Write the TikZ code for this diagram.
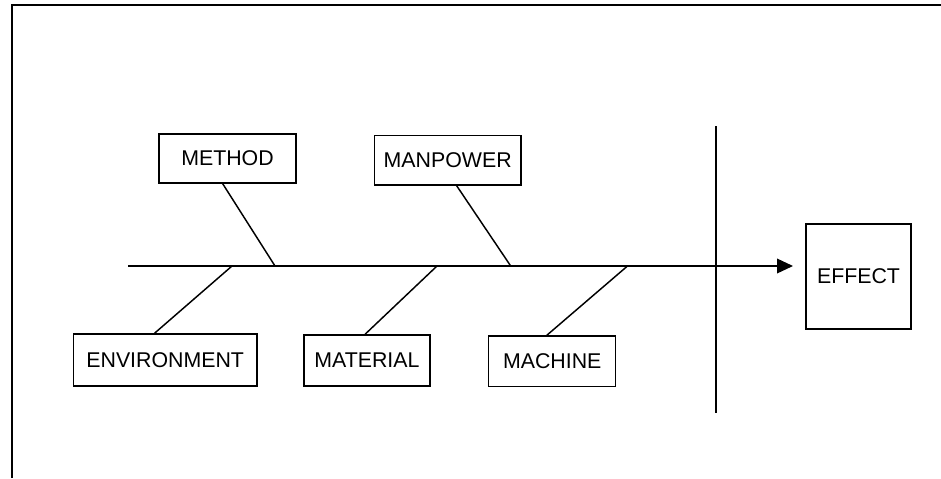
\documentclass[tikz,border=0pt]{standalone}
\usepackage{fontspec}
\setmainfont{Liberation Sans}
\usepackage{tikz}
\usetikzlibrary{positioning,arrows.meta}
\tikzset{
  cause/.style={draw, line width=1.1pt, align=center, inner sep=2pt,
                font=\fontsize{16}{19}\selectfont},
  effbox/.style={cause, minimum width=78.75pt, minimum height=78.75pt},
  bone/.style={line width=1.1pt},
  spine/.style={line width=1.1pt, -{Triangle[length=12pt, width=11pt]}},
  frame/.style={line width=1.6pt},
}
\begin{document}
\begin{tikzpicture}[x=0.75pt, y=-0.75pt]
\useasboundingbox (0,0) rectangle (941,478);
% frame
\draw[frame] (12,478) -- (12,5) -- (941,5);
% causes
\node[cause, minimum width=102.75pt, minimum height=36.75pt] (method) at (227.5,158.5) {METHOD};
\node[cause, minimum width=110pt, minimum height=37pt] (manpower) at (447.7,160.4) {MANPOWER};
\node[cause, minimum width=137.7pt, minimum height=39pt] (environment) at (165.2,360) {ENVIRONMENT};
\node[cause, minimum width=94.6pt, minimum height=38.2pt] (material) at (366.9,360.5) {MATERIAL};
\node[cause, minimum width=95.3pt, minimum height=38pt] (machine) at (552.2,361.3) {MACHINE};
\node[effbox] (effect) at (858.5,276.5) {EFFECT};
% spine and junctions
\coordinate (tail) at (128,266);
\coordinate (head) at (793,266);
\coordinate (jenv) at (232,266);
\coordinate (jmeth) at (275,266);
\coordinate (jmat) at (437,266);
\coordinate (jman) at (510.7,266);
\coordinate (jmach) at (627.5,266);
\coordinate (vtop) at (716,126);
\coordinate (vbot) at (716,413);
\draw[spine] (tail) -- (head);
\draw[bone] (vtop) -- (vbot);
% bones
\draw[bone] ([xshift=-3.6pt]method.south) -- (jmeth);
\draw[bone] ([xshift=6.75pt]manpower.south) -- (jman);
\draw[bone] ([xshift=-8pt]environment.north) -- (jenv);
\draw[bone] ([xshift=-1.4pt]material.north) -- (jmat);
\draw[bone] ([xshift=-4pt]machine.north) -- (jmach);
\end{tikzpicture}
\end{document}
